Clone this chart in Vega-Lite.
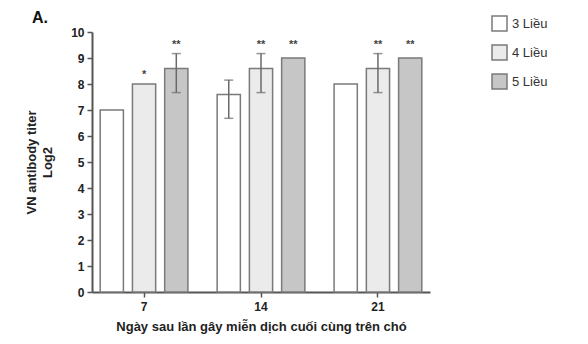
{
  "$schema": "https://vega.github.io/schema/vega-lite/v6.json",
  "autosize": {"type": "none"},
  "width": 338,
  "height": 260,
  "padding": {"left": 92, "top": 32, "right": 158, "bottom": 52},
  "background": "white",
  "title": {"text": "A.", "anchor": "start", "frame": "group", "font": "Liberation Sans", "fontSize": 16, "fontWeight": "bold", "color": "#111", "dx": -60, "dy": 17, "offset": 6},
  "data": {"values": [
    {"day": "7", "dose": "3 Liều", "value": 7.0, "lo": null, "hi": null, "star": "", "star_y": null},
    {"day": "7", "dose": "4 Liều", "value": 8.0, "lo": null, "hi": null, "star": "*", "star_y": 8.35},
    {"day": "7", "dose": "5 Liều", "value": 8.6, "lo": 7.67, "hi": 9.17, "star": "**", "star_y": 9.5},
    {"day": "14", "dose": "3 Liều", "value": 7.6, "lo": 6.68, "hi": 8.15, "star": "", "star_y": null},
    {"day": "14", "dose": "4 Liều", "value": 8.6, "lo": 7.67, "hi": 9.17, "star": "**", "star_y": 9.5},
    {"day": "14", "dose": "5 Liều", "value": 9.0, "lo": null, "hi": null, "star": "**", "star_y": 9.5},
    {"day": "21", "dose": "3 Liều", "value": 8.0, "lo": null, "hi": null, "star": "", "star_y": null},
    {"day": "21", "dose": "4 Liều", "value": 8.6, "lo": 7.67, "hi": 9.17, "star": "**", "star_y": 9.5},
    {"day": "21", "dose": "5 Liều", "value": 9.0, "lo": null, "hi": null, "star": "**", "star_y": 9.5}
  ]},
  "encoding": {
    "x": {"field": "day", "type": "nominal", "sort": ["7", "14", "21"],
      "scale": {"paddingInner": 0.25, "paddingOuter": 0.07},
      "axis": {"title": "Ngày sau lần gây miễn dịch cuối cùng trên chó", "labelAngle": 0}},
    "xOffset": {"field": "dose", "type": "nominal", "sort": ["3 Liều", "4 Liều", "5 Liều"],
      "scale": {"paddingInner": 0.28, "paddingOuter": 0}}
  },
  "layer": [
    {
      "mark": {"type": "bar", "stroke": "#7a7a7a", "strokeWidth": 1.5},
      "encoding": {
        "y": {"field": "value", "type": "quantitative",
          "scale": {"domain": [0, 10], "nice": false},
          "axis": {"title": ["VN antibody titer", "Log2"], "values": [0,1,2,3,4,5,6,7,8,9,10], "labelOverlap": false, "grid": false}},
        "color": {"field": "dose", "type": "nominal", "sort": ["3 Liều", "4 Liều", "5 Liều"],
          "scale": {"domain": ["3 Liều", "4 Liều", "5 Liều"], "range": ["#ffffff", "#ebebeb", "#c6c6c6"]},
          "legend": {"title": null, "orient": "none", "legendX": 399, "legendY": -17}}
      }
    },
    {
      "transform": [{"filter": "datum.lo != null"}],
      "mark": {"type": "rule", "color": "#6a6a6a", "strokeWidth": 1.5},
      "encoding": {"y": {"field": "lo", "type": "quantitative", "axis": {"title": ["VN antibody titer", "Log2"], "values": [0,1,2,3,4,5,6,7,8,9,10], "labelOverlap": false, "grid": false}}, "y2": {"field": "hi"}}
    },
    {
      "transform": [{"filter": "datum.lo != null"}],
      "mark": {"type": "tick", "color": "#6a6a6a", "thickness": 1.5, "size": 9, "orient": "horizontal"},
      "encoding": {"y": {"field": "lo", "type": "quantitative", "axis": {"title": ["VN antibody titer", "Log2"], "values": [0,1,2,3,4,5,6,7,8,9,10], "labelOverlap": false, "grid": false}}}
    },
    {
      "transform": [{"filter": "datum.lo != null"}],
      "mark": {"type": "tick", "color": "#6a6a6a", "thickness": 1.5, "size": 9, "orient": "horizontal"},
      "encoding": {"y": {"field": "hi", "type": "quantitative", "axis": {"title": ["VN antibody titer", "Log2"], "values": [0,1,2,3,4,5,6,7,8,9,10], "labelOverlap": false, "grid": false}}}
    },
    {
      "transform": [{"filter": "datum.star_y != null"}],
      "mark": {"type": "text", "font": "Liberation Sans", "fontSize": 11, "fontWeight": "bold", "color": "#444", "baseline": "middle"},
      "encoding": {"y": {"field": "star_y", "type": "quantitative", "axis": {"title": ["VN antibody titer", "Log2"], "values": [0,1,2,3,4,5,6,7,8,9,10], "labelOverlap": false, "grid": false}}, "text": {"field": "star"}}
    }
  ],
  "config": {
    "view": {"stroke": null},
    "font": "Liberation Sans",
    "axis": {
      "domainColor": "#555", "domainWidth": 2, "tickColor": "#555", "tickWidth": 1.5, "tickSize": 5,
      "labelFont": "Liberation Sans", "labelFontSize": 12, "labelFontWeight": "bold", "labelColor": "#222",
      "titleFont": "Liberation Sans", "titleFontSize": 13, "titleFontWeight": "bold", "titleColor": "#222"
    },
    "axisX": {"labelPadding": 4, "titlePadding": 8},
    "axisY": {"titlePadding": 16, "labelPadding": 3, "titleLineHeight": 16},
    "legend": {"symbolType": "square", "symbolSize": 225, "symbolStrokeColor": "#7a7a7a", "symbolStrokeWidth": 1.5,
      "labelFont": "Liberation Sans", "labelFontSize": 13, "labelColor": "#333", "rowPadding": 8, "labelOffset": 4}
  }
}
